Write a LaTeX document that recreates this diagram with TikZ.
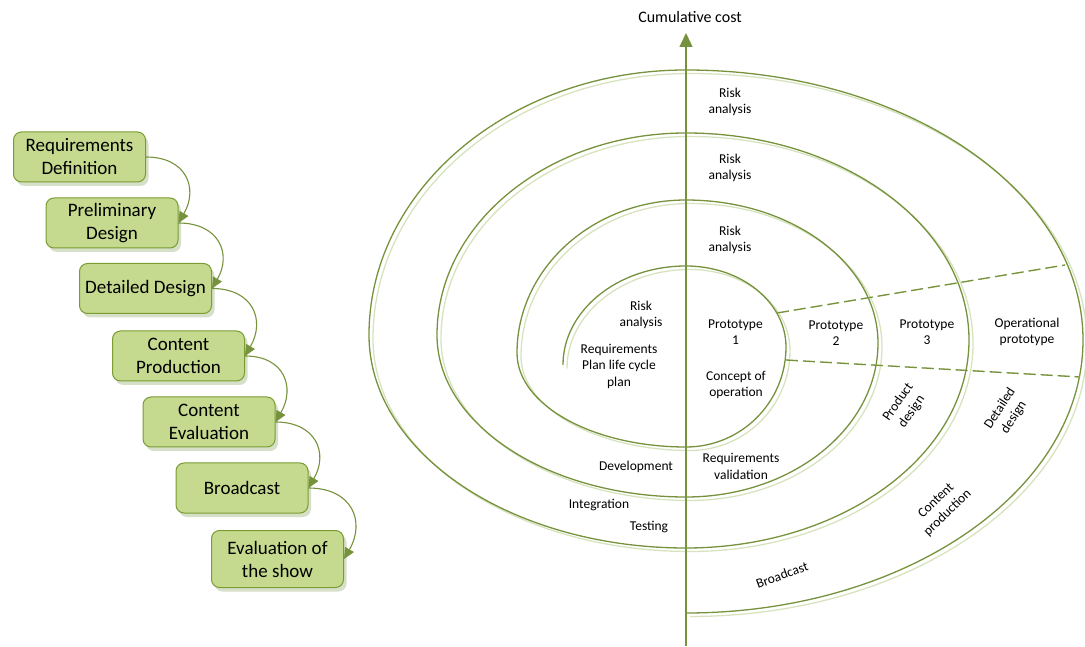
\documentclass[tikz,border=0pt]{standalone}
\usepackage{fontspec}
\setmainfont{Carlito}
\usetikzlibrary{arrows.meta,shadows}

\definecolor{olive}{RGB}{118,146,60}
\definecolor{olivelight}{RGB}{214,227,190}
\definecolor{boxfill}{RGB}{197,218,142}
\definecolor{boxline}{RGB}{122,156,50}
\definecolor{boxshadow}{RGB}{214,223,200}

% the spiral, built from quarter ellipses that meet on the axis and at the extremes
\newcommand\spiralpath{%
  (563,281)
  arc[start angle=180,end angle=90,x radius=123,y radius=99]
  arc[start angle=90,end angle=0,x radius=100,y radius=81]
  arc[start angle=0,end angle=-90,x radius=100,y radius=100]
  arc[start angle=-90,end angle=-180,x radius=169,y radius=94]
  arc[start angle=180,end angle=90,x radius=169,y radius=153]
  arc[start angle=90,end angle=0,x radius=192,y radius=143]
  arc[start angle=0,end angle=-90,x radius=192,y radius=154]
  arc[start angle=-90,end angle=-180,x radius=249,y radius=162]
  arc[start angle=180,end angle=90,x radius=249,y radius=202]
  arc[start angle=90,end angle=0,x radius=283,y radius=207]
  arc[start angle=0,end angle=-90,x radius=283,y radius=208]
  arc[start angle=-90,end angle=-180,x radius=317,y radius=213]
  arc[start angle=180,end angle=90,x radius=317,y radius=265]
  arc[start angle=90,end angle=0,x radius=397,y radius=270]
  arc[start angle=0,end angle=-90,x radius=397,y radius=273]}

\begin{document}
\begin{tikzpicture}[x=1pt,y=1pt,
  stage/.style={draw=boxline, line width=1pt, fill=boxfill, rounded corners=8pt,
    minimum width=132pt, minimum height=50pt, align=center, inner sep=0pt,
    font=\fontsize{19}{23}\selectfont,
    drop shadow={shadow xshift=3pt, shadow yshift=-4pt, fill=boxshadow, opacity=1, draw=none}},
  flow/.style={olive, line width=1.1pt, -{Triangle[length=11pt,width=10pt]}},
  lbl/.style={align=center, inner sep=0pt, font=\fontsize{13.5}{16.5}\selectfont},
  spiraldark/.style={olive, line width=1.3pt},
  spirallight/.style={olivelight, line width=1.3pt},
  phase/.style={dash pattern=on 12pt off 5pt, line width=1.3pt}
]
\useasboundingbox (0,0) rectangle (1085,646);

% ---------- waterfall of stages ----------
\node[stage] (b1) at (79.5,489) {Requirements\\Definition};
\node[stage] (b2) at (112,423) {Preliminary\\Design};
\node[stage] (b3) at (145.5,357.5) {Detailed Design};
\node[stage] (b4) at (178.5,290) {Content\\Production};
\node[stage] (b5) at (209,224) {Content\\Evaluation};
\node[stage] (b6) at (242,158) {Broadcast};
\node[stage, minimum height=57pt] (b7) at (277.5,87) {Evaluation of\\the show};

\foreach \a/\b in {b1/b2,b2/b3,b3/b4,b4/b5,b5/b6,b6/b7}
  \draw[flow] (\a.east) to[out=0,in=60,looseness=1.4] (\b.east);

% ---------- spiral model ----------
\draw[spirallight, xshift=4pt, yshift=-3.5pt] \spiralpath;
\draw[spiraldark] \spiralpath;

% cost axis
\coordinate (axbot) at (686,0);
\coordinate (axtop) at (686,613);
\draw[olive, line width=1.5pt, -{Triangle[length=14pt,width=13pt]}] (axbot) -- (axtop);
\node[lbl, font=\fontsize{16}{19}\selectfont] (cost) at (690,629) {Cumulative cost};

% phase boundaries of the prototype sector
\coordinate (d1a) at (777,333);
\coordinate (d1b) at (1065,381);
\coordinate (d2a) at (786,286);
\coordinate (d2b) at (1080,269);
\draw[phase, olivelight, yshift=-3.5pt] (d1a) -- (d1b);
\draw[phase, olivelight, yshift=-3.5pt] (d2a) -- (d2b);
\draw[phase, olive] (d1a) -- (d1b);
\draw[phase, olive] (d2a) -- (d2b);

% labels
\node[lbl] (ra4) at (730,544) {Risk\\analysis};
\node[lbl] (ra3) at (730,478) {Risk\\analysis};
\node[lbl] (ra2) at (730,406) {Risk\\analysis};
\node[lbl] (ra1) at (641,331) {Risk\\analysis};
\node[lbl] (req) at (619,280) {Requirements\\Plan life cycle\\plan};
\node[lbl] (p1) at (735.5,314) {Prototype\\1};
\node[lbl] (p2) at (836,313) {Prototype\\2};
\node[lbl] (p3) at (927,314) {Prototype\\3};
\node[lbl] (op) at (1027,314) {Operational\\prototype};
\node[lbl] (coo) at (736,261) {Concept of\\operation};
\node[lbl] (rv) at (741,179.5) {Requirements\\validation};
\node[lbl] (dev) at (636,179) {Development};
\node[lbl] (int) at (599,141) {Integration};
\node[lbl] (tst) at (649,119) {Testing};
\node[lbl, rotate=55] (pd) at (905,239) {Product\\design};
\node[lbl, rotate=57] (dd) at (1007,233) {Detailed\\design};
\node[lbl, rotate=44] (cp) at (942,139) {Content\\production};
\node[lbl, rotate=20] (bc) at (782,71) {Broadcast};
\end{tikzpicture}
\end{document}
